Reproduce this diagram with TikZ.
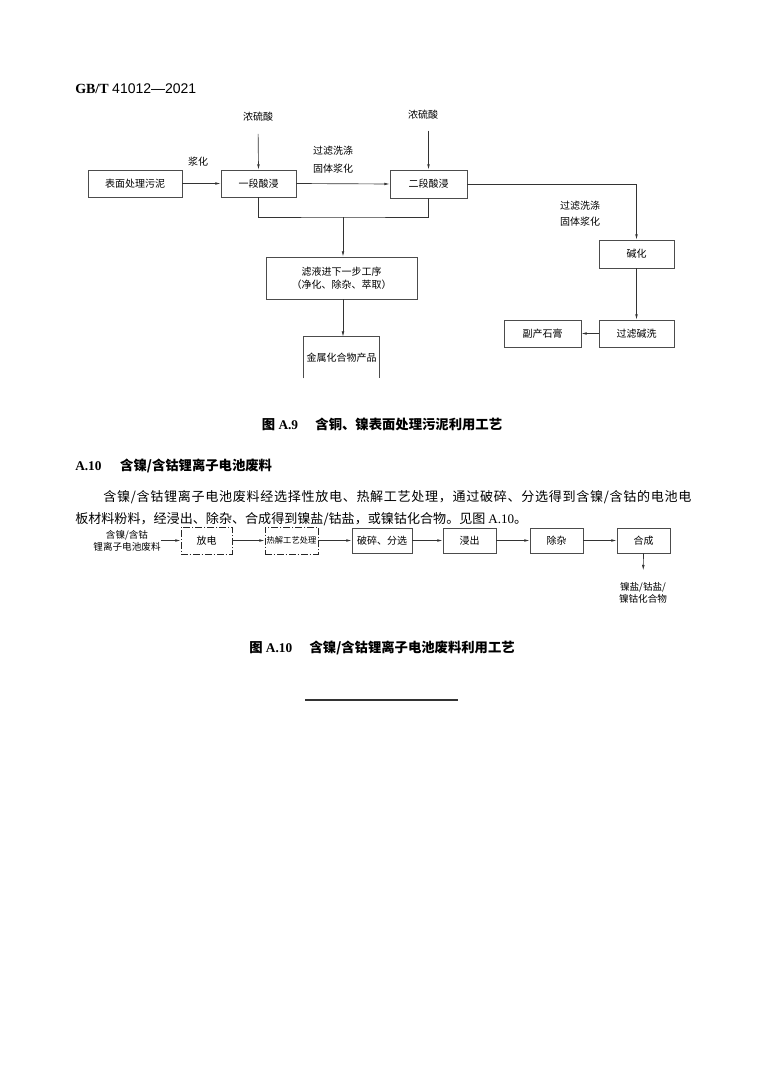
\documentclass[tikz,border=0pt]{standalone}
\usepackage{fontspec}
\setmainfont{Liberation Serif}
\newfontfamily\cjk{Noto Sans CJK SC}
\newfontfamily\hsans{Liberation Sans}
\usetikzlibrary{arrows.meta}
\begin{document}
\begin{tikzpicture}[x=0.75pt,y=-0.75pt,
  wh/.style 2 args={minimum width=#1*0.75pt, minimum height=#2*0.75pt},
  box/.style={draw=black!70, line width=0.6pt, inner sep=0pt, font=\cjk\fontsize{7.5}{9.75}\selectfont, align=center},
  lbl/.style={inner sep=0pt, font=\cjk\fontsize{7.5}{9.75}\selectfont, align=center},
  boxline/.style={draw=black!70, line width=0.6pt},
  arr/.style={draw=black!80, line width=0.5pt, -{Latex[length=4pt,width=2pt]}},
  ln/.style={draw=black!80, line width=0.5pt},
  ddbox/.style={box, draw=black!85, dash pattern=on 5pt off 1.5pt on 1pt off 1.5pt},
  para/.style={anchor=west, inner sep=0pt, font=\cjk\fontsize{9.8}{12}\selectfont}
]
\useasboundingbox (0,0) rectangle (776,1081);
\fill[white] (0,0) rectangle (776,1081);

% header
\node[anchor=west, inner sep=0pt, font=\fontsize{10.5}{12}\selectfont] (hdr) at (75,89) {\textbf{GB/T} {\hsans 41012—2021}};

% ---------- Figure A.9 ----------
\node[box, wh={94}{27}] (b1) at (135,183.5) {表面处理污泥};
\node[box, wh={75}{27}] (b2) at (258.5,183.5) {一段酸浸};
\node[box, wh={77}{28}] (b3) at (428.5,184) {二段酸浸};
\node[box, wh={151}{42}] (b4) at (341.5,278) {滤液进下一步工序\\（净化、除杂、萃取）};
\node[lbl, wh={75}{41}] (b5) at (341.5,357.5) {金属化合物产品};
\draw[boxline] (b5.south west) -- (b5.north west) -- (b5.north east) -- (b5.south east);
\node[box, wh={75}{28}] (b6) at (636.5,254) {碱化};
\node[box, wh={75}{27}] (b7) at (636.5,333.5) {过滤碱洗};
\node[box, wh={77}{27}] (b8) at (542.5,333.5) {副产石膏};

\node[lbl] (n1) at (258,117) {浓硫酸};
\node[lbl] (n2) at (423,115) {浓硫酸};
\node[lbl] (l1) at (198,162) {浆化};
\node[lbl, font=\cjk\fontsize{7.5}{13.5}\selectfont] (l2) at (333,160) {过滤洗涤\\固体浆化};
\node[lbl, font=\cjk\fontsize{7.5}{12}\selectfont] (l3) at (580,214) {过滤洗涤\\固体浆化};

\coordinate (j1) at (343,217);
\draw[arr, shorten <=9pt] (n1.south) -- (b2.north);
\draw[arr, shorten <=8pt] (n2.south -| b3.north) -- (b3.north);
\draw[arr] (b1.east) -- (b2.west);
\draw[arr] (b2.east) -- (b3.west);
\draw[ln] (b2.south) |- (j1) -| (b3.south);
\draw[arr] (j1) -- (j1 |- b4.north);
\draw[arr] (b4.south -| j1) -- (b5.north -| j1);
\draw[arr] (b3.east) -| (b6.north);
\draw[arr] (b6.south) -- (b7.north);
\draw[arr] (b7.west) -- (b8.east);

\node[inner sep=0pt, font=\fontsize{10}{12}\selectfont] (cap9) at (382,424) {{\cjk\bfseries 图}\ \textbf{A.9}\hspace{13pt}{\cjk\bfseries 含铜、镍表面处理污泥利用工艺}};

% ---------- A.10 text ----------
\node[anchor=west, inner sep=0pt, font=\fontsize{10}{12}\selectfont] (h10) at (75,466) {\textbf{A.10}\hspace{14pt}{\cjk\bfseries 含镍/含钴锂离子电池废料}};
\node[para] (p1) at (103,497) {\addfontfeature{LetterSpace=5.2}含镍/含钴锂离子电池废料经选择性放电、热解工艺处理，通过破碎、分选得到含镍/含钴的电池电};
\node[para] (p2) at (75,519) {板材料粉料，经浸出、除杂、合成得到镍盐/钴盐，或镍钴化合物。见图 {\rmfamily A.10}。};

% ---------- Figure A.10 ----------
\node[lbl, font=\cjk\fontsize{7.2}{9}\selectfont] (s) at (127,541) {含镍/含钴\\锂离子电池废料};
\node[ddbox, wh={51}{27}] (d1) at (206.5,540.5) {放电};
\node[ddbox, wh={53}{27}, font=\cjk\fontsize{6.2}{8}\selectfont] (d2) at (291.5,540.5) {热解工艺处理};
\node[box, wh={60}{25}] (e1) at (382,540.5) {破碎、分选};
\node[box, wh={53}{25}] (e2) at (469.5,540.5) {浸出};
\node[box, wh={53}{25}] (e3) at (556.5,540.5) {除杂};
\node[box, wh={53}{25}] (e4) at (643.5,540.5) {合成};
\node[lbl, font=\cjk\fontsize{7.2}{9}\selectfont] (o) at (643,593) {镍盐/钴盐/\\镍钴化合物};

\draw[arr] (s.east |- d1.west) -- (d1.west);
\draw[arr] (d1.east) -- (d2.west);
\draw[arr] (d2.east) -- (e1.west);
\draw[arr] (e1.east) -- (e2.west);
\draw[arr] (e2.east) -- (e3.west);
\draw[arr] (e3.east) -- (e4.west);
\draw[arr, shorten >=9pt] (e4.south) -- (o.north);

\node[inner sep=0pt, font=\fontsize{10}{12}\selectfont] (cap10) at (382,648) {{\cjk\bfseries 图}\ \textbf{A.10}\hspace{13pt}{\cjk\bfseries 含镍/含钴锂离子电池废料利用工艺}};

\draw[line width=0.8pt, black!80] (305,700) -- (458,700);
\end{tikzpicture}
\end{document}
